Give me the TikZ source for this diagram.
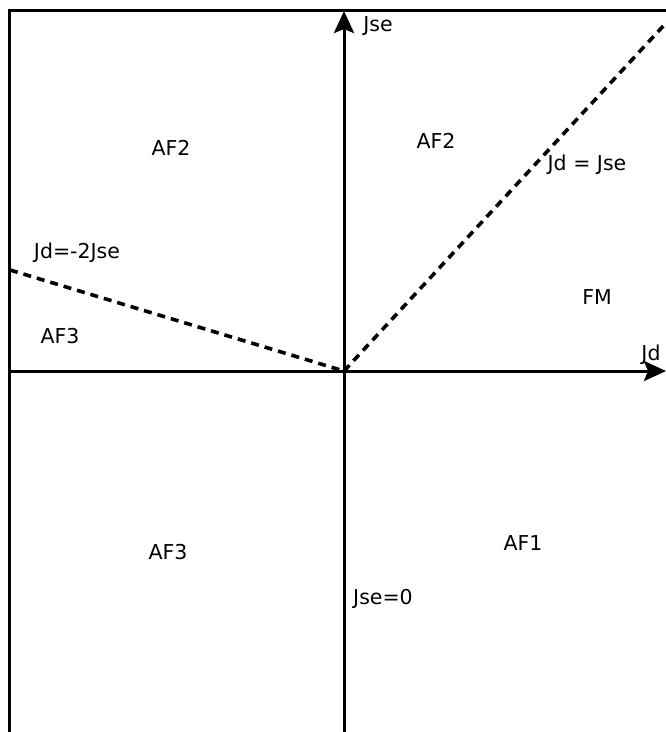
\documentclass[tikz,border=0pt]{standalone}
\usepackage{fontspec}
\setmainfont{DejaVu Sans}
\usetikzlibrary{arrows.meta}
\begin{document}
\begin{tikzpicture}[x=1pt,y=-1pt,
  frame/.style={line width=3pt,black},
  axis/.style={line width=3pt,black,-{Stealth[length=22pt,width=20pt,inset=4pt]}},
  boundary/.style={line width=3.6pt,black,dash pattern=on 8pt off 6pt},
  lbl/.style={font=\fontsize{20.5}{24}\selectfont,inner sep=0pt}]
\useasboundingbox[fill=white] (0,0) rectangle (666,732);
% frame
\coordinate (tl) at (9.5,10);
\coordinate (tr) at (666,10);
\coordinate (bl) at (9.5,732);
\draw[frame] (tr) -- (tl) -- (bl);
% axes
\coordinate (O) at (344,371);
\coordinate (ybot) at (344,732);
\coordinate (ytop) at (344,11);
\coordinate (xleft) at (9.5,371);
\coordinate (xright) at (666,371);
\draw[axis] (ybot) -- (ytop);
\draw[axis] (xleft) -- (xright);
% boundaries
\coordinate (dr) at (666,23);
\coordinate (dl) at (10,270);
\draw[boundary] (O) -- (dr);
\draw[boundary] (dl) -- (O);
% labels
\node[lbl] (jse) at (378,26) {Jse};
\node[lbl] (jd) at (651,355) {Jd};
\node[lbl] (af2l) at (171,148) {AF2};
\node[lbl] (af2r) at (436,141) {AF2};
\node[lbl] (jdjse) at (587,165) {Jd = Jse};
\node[lbl] (jdm2) at (77,253) {Jd=-2Jse};
\node[lbl] (af3u) at (60,336) {AF3};
\node[lbl] (fm) at (597,297) {FM};
\node[lbl] (af3l) at (168,552) {AF3};
\node[lbl] (af1) at (523,543) {AF1};
\node[lbl] (jse0) at (383,599) {Jse=0};
\end{tikzpicture}
\end{document}
